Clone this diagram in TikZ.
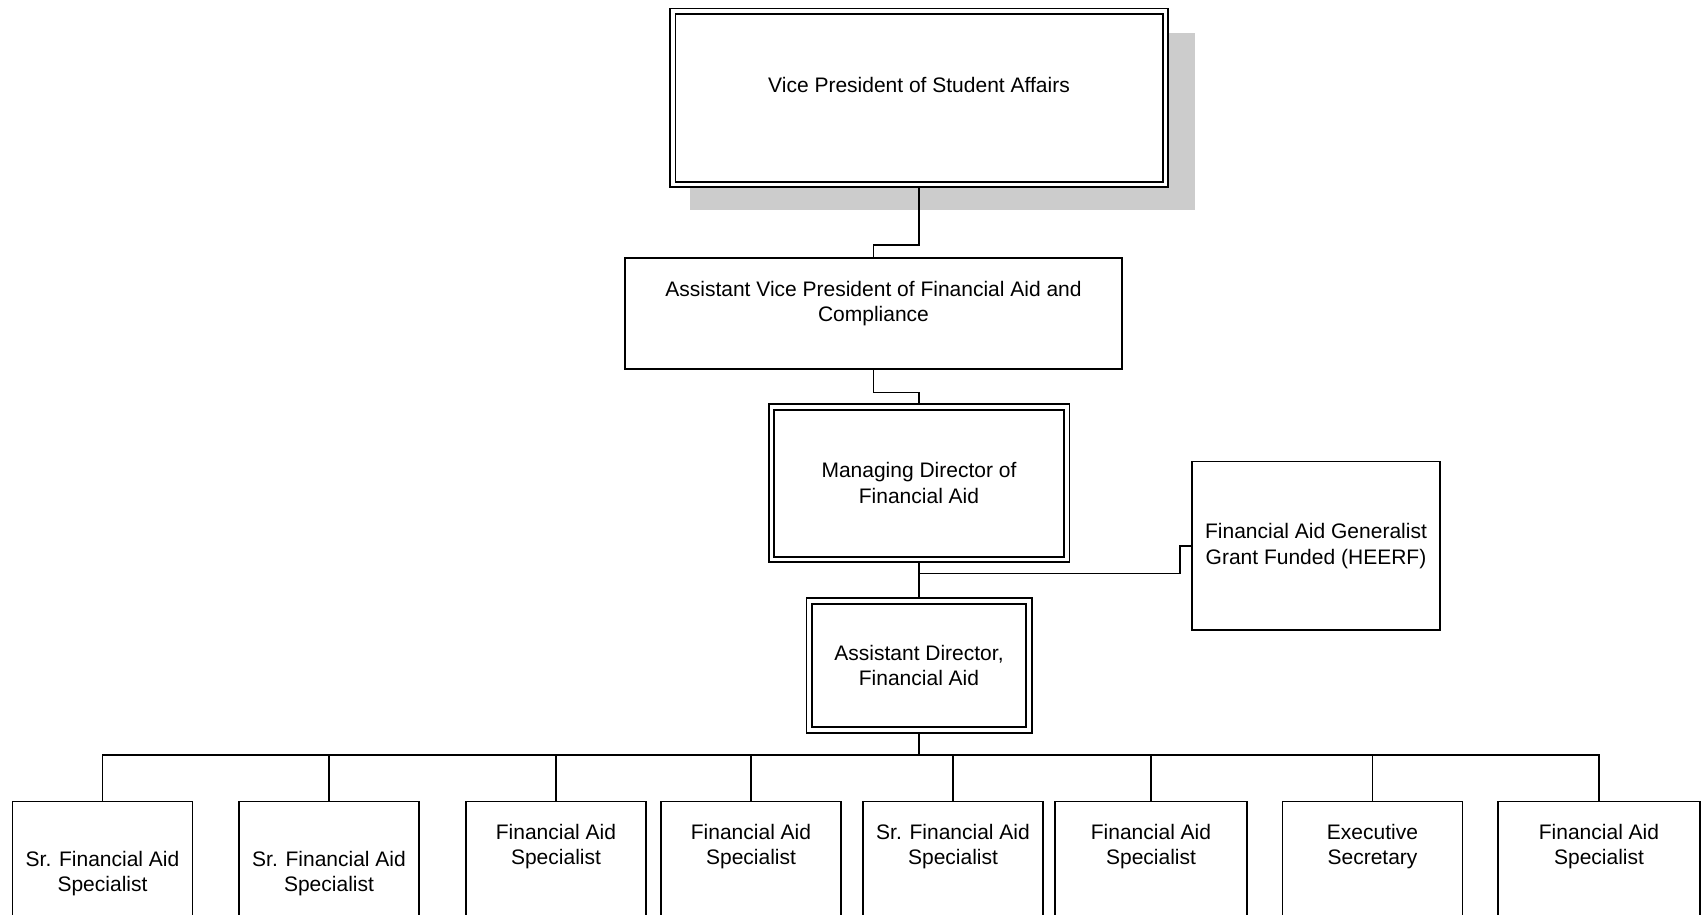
\documentclass[tikz,border=0pt]{standalone}
\usepackage{fontspec}
\setmainfont{Liberation Sans}
\usetikzlibrary{positioning, shadows}
\newcommand{\orgfont}{\fontsize{21}{25.5}\selectfont}
\tikzset{
  unit/.style={draw, line width=1.7pt, fill=white, inner sep=0pt, outer sep=0.85pt, align=center, font=\orgfont},
  head/.style={unit, double, double distance=3.8pt, line width=1.7pt, outer sep=3.6pt},
  seat/.style={unit, anchor=north, minimum height=170pt},
  ttl/.style={inner sep=0pt, align=center, font=\orgfont},
  link/.style={line width=1.5pt}
}

\begin{document}
\begin{tikzpicture}[x=1pt, y=-1pt]
  \useasboundingbox (0,0) rectangle (1701,914);
  \clip (0,0) rectangle (1701,914);

  % management chain
  \node[head, minimum width=492.8pt, minimum height=173.2pt,
        drop shadow={shadow xshift=23pt, shadow yshift=-23pt, shadow scale=1.025, fill=black!20, opacity=1}] (vp) at (919,97.8) {};
  \node[ttl, below=69pt of vp.north] (vpt) {Vice President of Student Affairs};
  \node[unit, minimum width=497.3pt, minimum height=111.3pt] (avp) at (873.5,313.5) {};
  \node[ttl, below=23.7pt of avp.north] (avpt) {Assistant Vice President of Financial Aid and\\Compliance};
  \node[head, minimum width=295.2pt, minimum height=152.5pt] (md) at (919,483.2) {Managing Director of\\Financial Aid};
  \node[unit, minimum width=248.3pt, minimum height=168.6pt] (heerf) at (1316,545.9) {Financial Aid Generalist\\Grant Funded (HEERF)};
  \node[head, minimum width=219.8pt, minimum height=129pt] (ad) at (919,665.4) {Assistant Director,\\Financial Aid};

  % staff row
  \foreach \i/\cx/\w/\gap/\job in {
      1/102.5/180/50/{Sr. Financial Aid\\Specialist},
      2/329/180.5/50/{Sr. Financial Aid\\Specialist},
      3/556/180/23/{Financial Aid\\Specialist},
      4/751/180/23/{Financial Aid\\Specialist},
      5/953/180/23/{Sr. Financial Aid\\Specialist},
      6/1151/192/23/{Financial Aid\\Specialist},
      7/1372.5/180/23/{Executive\\Secretary},
      8/1599/201.8/23/{Financial Aid\\Specialist}} {
    \node[seat, minimum width=\w pt] (s\i) at (\cx,800.7) {};
    \node[ttl, below=\gap pt of s\i.north] (t\i) {\job};
  }

  \draw[link] (vp.south) -- ++(0,57) -| (avp.north);
  \draw[link] (avp.south) -- ++(0,22.5) -| (md.north);
  \draw[link] (md.south) -- (ad.north);
  \draw[link] ([yshift=-10.5pt]md.south) -| ([xshift=-11pt]heerf.west) -- (heerf.west);
  \foreach \i in {1,...,8}
    \draw[link] (ad.south) -- ++(0,21.7) -| (s\i.north);
\end{tikzpicture}
\end{document}
